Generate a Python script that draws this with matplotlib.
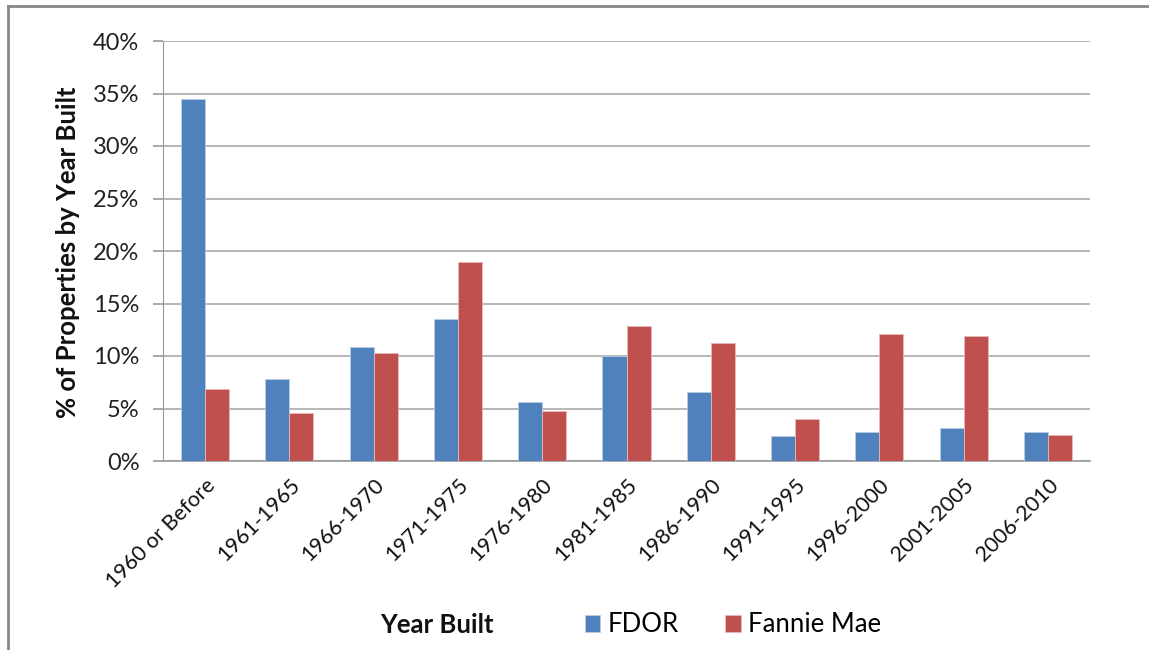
import matplotlib
matplotlib.use("Agg")
import matplotlib.pyplot as plt
import numpy as np
from matplotlib.ticker import FuncFormatter
from matplotlib.lines import Line2D

categories = ["1960 or Before", "1961-1965", "1966-1970", "1971-1975", "1976-1980",
              "1981-1985", "1986-1990", "1991-1995", "1996-2000", "2001-2005", "2006-2010"]
fdor = [34.5, 7.8, 10.9, 13.5, 5.6, 10.0, 6.6, 2.4, 2.8, 3.1, 2.8]
fannie_mae = [6.9, 4.6, 10.3, 19.0, 4.8, 12.9, 11.2, 4.0, 12.1, 11.9, 2.5]
yticks = [0, 5, 10, 15, 20, 25, 30, 35, 40]

plt.rcParams['font.family'] = ['Lato', 'DejaVu Sans']

fig = plt.figure(figsize=(11.49, 6.5), dpi=100)
ax = fig.add_axes([163/1149, 1 - 461/650, (1090-163)/1149, (461-41)/650])

x = np.arange(len(categories))
w = 0.285
blue = "#4F81BD"
red = "#C0504D"
ax.bar(x - w/2, fdor, width=w, color=blue, edgecolor="#B9CDE5", linewidth=0.6, label="FDOR", zorder=3)
ax.bar(x + w/2, fannie_mae, width=w, color=red, edgecolor="#E6B9B8", linewidth=0.6, label="Fannie Mae", zorder=3)

ax.set_xlim(-0.5, len(categories) - 0.5)
ax.set_ylim(0, 40)
ax.set_yticks(yticks)
ax.yaxis.set_major_formatter(FuncFormatter(lambda v, p: f"{int(v)}%"))
ax.grid(axis='y', color="#AAAAAA", linewidth=1.2, zorder=0)
ax.set_axisbelow(True)

for s in ['top', 'right']:
    ax.spines[s].set_visible(False)
ax.spines['left'].set_color("#999999")
ax.spines['bottom'].set_color("#999999")
ax.spines['bottom'].set_linewidth(1.2)
ax.tick_params(axis='y', length=7, color="#999999", width=1.2, labelsize=17, pad=10, labelcolor="#222222")
ax.tick_params(axis='x', length=0, labelsize=15.5, pad=10, labelcolor="#111111")

ax.set_xticks(x)
ax.set_xticklabels(categories, rotation=45, ha='right', va='top', rotation_mode='anchor')

fig.text(68/1149, 1 - 252/650, "% of Properties by Year Built", fontsize=18.5, fontweight='bold',
         rotation=90, ha='center', va='center', color="#111111")

fig.text(437/1149, 1 - 625/650, "Year Built", fontsize=18.5, fontweight='bold', ha='center', va='center',
         color="#111111")
fig.legend(loc='center', bbox_to_anchor=(733/1149, 1 - 625/650), ncol=2, frameon=False,
           fontsize=18.5, handlelength=0.6, handleheight=0.6, handletextpad=0.3, columnspacing=1.8)

# outer border (left and top)
fig.add_artist(Line2D([8/1149, 8/1149], [0, 1 - 6/650], color="#888888", linewidth=2, transform=fig.transFigure))
fig.add_artist(Line2D([8/1149, 1], [1 - 6/650, 1 - 6/650], color="#888888", linewidth=2, transform=fig.transFigure))

fig.savefig("out.png", dpi=100)
